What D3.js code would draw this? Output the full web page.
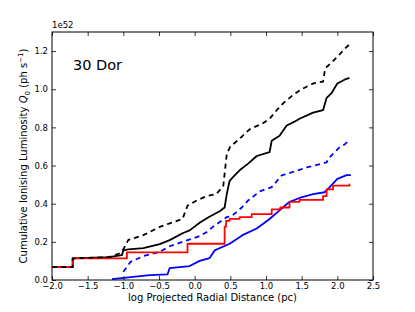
<!DOCTYPE html>
<html><head><meta charset="utf-8">
<script src="https://cdn.jsdelivr.net/npm/d3@7"></script>
<style>body{margin:0;background:#fff}svg{display:block}text{font-family:"DejaVu Sans",sans-serif}</style>
</head><body><svg id="c" width="415" height="312"></svg>
<script>
const xTicks = [-2.0, -1.5, -1.0, -0.5, 0.0, 0.5, 1.0, 1.5, 2.0, 2.5];
const yTicks = [0.0, 0.2, 0.4, 0.6, 0.8, 1.0, 1.2];

// red: step series (value holds from each x to the next)
const redX = [-2.0, -1.71, -0.95, -0.10, 0.42, 0.44, 0.49, 0.63, 0.80, 1.08, 1.20, 1.33, 1.47, 1.80, 1.85, 1.94, 2.17];
const redY = [0.068, 0.113, 0.145, 0.19, 0.28, 0.31, 0.32, 0.33, 0.345, 0.37, 0.38, 0.41, 0.42, 0.44, 0.475, 0.495, 0.505];

// others: points read along the (finely stepped) curves
const blackX = [-2.0, -1.71, -1.71, -1.2, -1.02, -1.0, -0.93, -0.72, -0.49, -0.35, -0.17, -0.07, 0.07, 0.20, 0.35, 0.42, 0.45, 0.49, 0.54, 0.63, 0.75, 0.87, 1.05, 1.08, 1.19, 1.29, 1.40, 1.47, 1.66, 1.80, 1.85, 1.92, 2.0, 2.10, 2.17];
const blackY = [0.068, 0.068, 0.113, 0.12, 0.13, 0.155, 0.16, 0.167, 0.188, 0.209, 0.245, 0.26, 0.30, 0.33, 0.36, 0.38, 0.45, 0.52, 0.54, 0.575, 0.61, 0.65, 0.67, 0.73, 0.756, 0.81, 0.83, 0.845, 0.877, 0.89, 0.955, 0.98, 1.03, 1.05, 1.06];

const blackDashX = [-2.0, -1.71, -1.71, -1.2, -1.05, -1.0, -0.93, -0.72, -0.49, -0.35, -0.17, -0.10, 0.03, 0.17, 0.30, 0.40, 0.45, 0.50, 0.63, 0.77, 0.95, 1.05, 1.15, 1.25, 1.38, 1.50, 1.66, 1.80, 1.83, 1.92, 2.0, 2.10, 2.17];
const blackDashY = [0.068, 0.068, 0.113, 0.12, 0.14, 0.16, 0.21, 0.235, 0.278, 0.297, 0.32, 0.39, 0.417, 0.44, 0.45, 0.49, 0.66, 0.70, 0.74, 0.79, 0.82, 0.845, 0.89, 0.93, 0.97, 1.0, 1.03, 1.04, 1.11, 1.14, 1.17, 1.21, 1.235];

const blueDashX = [-1.0, -0.93, -0.90, -0.72, -0.49, -0.35, -0.17, 0.07, 0.17, 0.26, 0.45, 0.52, 0.66, 0.75, 0.91, 1.08, 1.22, 1.57, 1.85, 1.89, 2.03, 2.10, 2.17];
const blueDashY = [0.043, 0.078, 0.095, 0.125, 0.148, 0.177, 0.20, 0.23, 0.252, 0.28, 0.33, 0.335, 0.38, 0.417, 0.464, 0.487, 0.548, 0.59, 0.617, 0.643, 0.695, 0.71, 0.734];

const blueX = [-1.16, -0.63, -0.38, -0.35, -0.07, 0.07, 0.21, 0.28, 0.49, 0.67, 0.87, 1.05, 1.19, 1.33, 1.47, 1.66, 1.82, 1.89, 2.0, 2.13, 2.19];
const blueY = [0.005, 0.026, 0.03, 0.062, 0.073, 0.10, 0.115, 0.155, 0.19, 0.235, 0.27, 0.32, 0.365, 0.41, 0.43, 0.45, 0.46, 0.485, 0.53, 0.55, 0.55];

const W = 415, H = 312;
const m = {l: 52, r: 42, t: 32, b: 32};
const svg = d3.select("#c");
const x = d3.scaleLinear().domain([-2.0, 2.5]).range([m.l, W - m.r]);
const y = d3.scaleLinear().domain([0, 1.3]).range([H - m.b, m.t]);
const fmt = d => d3.format(".1f")(d).replace("-", "\u2212");

const axB = d3.axisBottom(x).tickValues(xTicks).tickSizeInner(-4).tickSizeOuter(0).tickPadding(3).tickFormat(fmt);
const axT = d3.axisTop(x).tickValues(xTicks).tickSizeInner(-4).tickSizeOuter(0).tickFormat("");
const axL = d3.axisLeft(y).tickValues(yTicks).tickSizeInner(-4).tickSizeOuter(0).tickPadding(4).tickFormat(fmt);
const axR = d3.axisRight(y).tickValues(yTicks).tickSizeInner(-4).tickSizeOuter(0).tickFormat("");

function style(g){ g.selectAll("path").remove(); g.selectAll("line").attr("stroke","#000").attr("stroke-width",0.8);
  g.selectAll("text").attr("fill","#000").style("font-size","8.5px").style("font-family","DejaVu Sans"); }
svg.append("g").attr("transform",`translate(0,${H-m.b})`).call(axB).call(style);
svg.append("g").attr("transform",`translate(0,${m.t})`).call(axT).call(style);
svg.append("g").attr("transform",`translate(${m.l},0)`).call(axL).call(style);
svg.append("g").attr("transform",`translate(${W-m.r},0)`).call(axR).call(style);

svg.append("clipPath").attr("id","pc").append("rect")
  .attr("x", m.l).attr("y", m.t).attr("width", W-m.l-m.r).attr("height", H-m.t-m.b);

const stepLine = d3.line().x(d => x(d[0])).y(d => y(d[1])).curve(d3.curveStepAfter);
const linLine = d3.line().x(d => x(d[0])).y(d => y(d[1]));
function series(xs, ys, color, dash, gen){
  svg.append("path").datum(xs.map((v,i)=>[v, ys[i]]))
    .attr("d", gen).attr("fill","none").attr("stroke",color).attr("stroke-width",1.8)
    .attr("stroke-linejoin","round")
    .attr("stroke-dasharray", dash || null).attr("clip-path","url(#pc)");
}
series(blackX, blackY, "#000", null, linLine);
series(blueX, blueY, "#0000ff", null, linLine);
series(blueDashX, blueDashY, "#0000ff", "5,4", linLine);
series(redX, redY, "#ff0000", null, stepLine);
series(blackDashX, blackDashY, "#000", "5,4", linLine);

svg.append("rect").attr("x", m.l).attr("y", m.t).attr("width", W-m.l-m.r).attr("height", H-m.t-m.b)
  .attr("fill","none").attr("stroke","#000").attr("stroke-width",1);

svg.append("text").attr("x", m.l).attr("y", m.t-4).style("font-size","8.5px").text("1e52");
svg.append("text").attr("x", 73).attr("y", 70).style("font-size","14.5px").text("30 Dor");
svg.append("text").attr("x", (m.l + W - m.r)/2).attr("y", 301).attr("text-anchor","middle")
  .style("font-size","10px").text("log Projected Radial Distance (pc)");
const yl = svg.append("text").attr("transform",`translate(27,${(m.t+H-m.b)/2}) rotate(-90)`)
  .attr("text-anchor","middle").style("font-size","10px");
yl.append("tspan").text("Cumulative Ionising Luminosity ");
yl.append("tspan").style("font-style","italic").text("Q");
yl.append("tspan").attr("dy", 2.5).style("font-size","7px").text("0");
yl.append("tspan").attr("dy", -2.5).text(" (ph s");
yl.append("tspan").attr("dy", -4).style("font-size","7px").text("\u22121");
yl.append("tspan").attr("dy", 4).text(")");
</script></body></html>
